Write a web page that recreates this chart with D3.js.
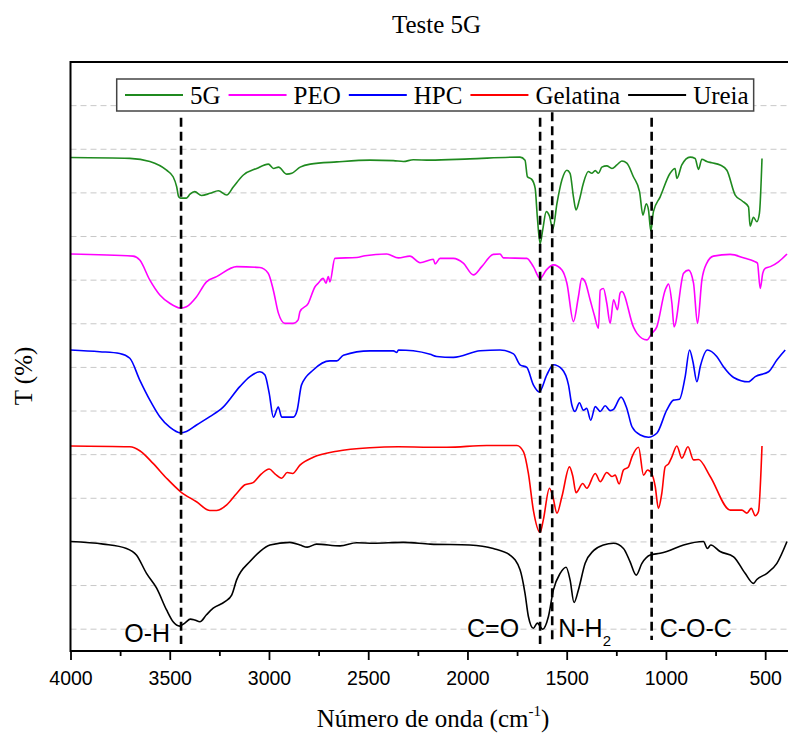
<!DOCTYPE html>
<html lang="pt">
<head>
<meta charset="utf-8">
<title>Teste 5G</title>
<script src="https://cdn.jsdelivr.net/npm/d3@7"></script>
<style>
  body { margin: 0; background: #fff; }
  .serif { font-family: "Liberation Serif", "Times New Roman", serif; }
  .sans { font-family: "Liberation Sans", Arial, sans-serif; }
</style>
</head>
<body>
<script>
// FTIR spectra, stacked with an offset: [wavenumber (cm-1), T (a.u.)]
var series5G = [[4000,108.1],[3701,107.9],[3600,107.2],[3516,105.2],[3483,103.7],[3465,101.4],[3455,99.1],
  [3445,98.8],[3416,98.8],[3398,99.7],[3374,100.3],[3340,99.4],[3297,99.9],[3255,100.5],[3213,99.5],
  [3179,101.4],[3129,104.1],[3062,105.6],[3003,106.6],[2977,105.6],[2952,105.9],[2910,104.3],[2885,104.5],
  [2843,105.9],[2792,106.6],[2658,107.1],[2491,107.5],[2373,107.4],[2323,107.2],[2273,107.6],[2188,107.5],
  [1988,107.8],[1735,108.2],[1710,107.5],[1698,103.7],[1676,103.1],[1659,101.1],[1648,94.5],[1634,88.4],
  [1621,91.5],[1603,95.7],[1587,94.7],[1570,91.7],[1549,97.6],[1524,103.0],[1499,105.2],[1483,104.5],
  [1466,99.1],[1453,96.1],[1436,98.4],[1416,102.2],[1391,104.9],[1374,104.5],[1356,105.1],[1340,104.5],
  [1323,105.9],[1298,106.2],[1272,105.6],[1247,106.4],[1222,107.3],[1197,106.8],[1164,103.7],[1133,100.3],
  [1116,94.9],[1099,97.5],[1088,96.1],[1076,91.3],[1063,95.7],[1029,99.1],[979,104.5],[954,105.6],
  [945,103.3],[920,106.4],[878,108.2],[853,107.9],[836,105.4],[819,107.7],[794,107.2],[769,106.9],
  [727,106.4],[693,105.2],[651,99.5],[617,98.2],[584,96.8],[576,92.4],[559,94.4],[542,93.4],[529,95.3],
  [516,107.9]];

var seriesPEO = [[4000,86.0],[3685,85.5],[3651,84.6],[3600,80.0],[3550,76.6],[3500,74.7],[3445,73.6],
  [3416,73.9],[3365,76.2],[3315,79.6],[3264,80.8],[3163,83.1],[3046,82.9],[3004,81.6],[2978,77.7],
  [2953,72.5],[2920,70.1],[2878,70.1],[2853,70.9],[2844,72.8],[2802,74.7],[2768,78.5],[2752,79.3],
  [2727,80.4],[2713,79.3],[2701,80.8],[2693,79.6],[2668,85.0],[2558,85.2],[2516,85.6],[2407,86.0],
  [2348,85.1],[2290,85.5],[2239,84.0],[2172,84.8],[2163,83.7],[2138,85.0],[2071,85.0],[2021,83.9],
  [1970,81.2],[1928,83.1],[1870,85.9],[1836,86.0],[1819,85.1],[1701,85.0],[1668,83.1],[1634,80.4],
  [1603,82.3],[1567,83.5],[1524,82.3],[1499,79.3],[1466,70.5],[1441,76.2],[1424,80.4],[1407,79.6],
  [1382,75.5],[1361,72.0],[1340,69.0],[1331,77.7],[1315,78.1],[1298,74.7],[1281,70.1],[1264,75.5],
  [1244,73.2],[1231,77.0],[1222,77.4],[1164,69.3],[1146,67.8],[1096,66.3],[1071,67.8],[1046,69.3],
  [1004,77.7],[987,79.1],[970,74.7],[959,69.3],[911,81.6],[886,82.3],[861,79.3],[841,70.1],[819,80.0],
  [794,83.9],[761,85.5],[676,85.9],[601,85.0],[559,84.4],[539,83.9],[525,78.1],[512,81.6],[500,82.7],
  [474,83.1],[433,84.2],[390,86.0]];

var seriesHPC = [[4000,64.0],[3853,63.6],[3752,63.2],[3701,62.1],[3651,57.1],[3600,52.5],[3550,48.7],
  [3500,46.3],[3445,45.0],[3416,45.3],[3365,46.8],[3298,48.7],[3231,50.9],[3147,55.6],[3096,57.9],
  [3046,59.0],[3021,58.3],[2999,54.1],[2978,48.6],[2953,50.9],[2936,48.6],[2878,48.6],[2858,50.2],
  [2836,56.0],[2777,59.4],[2693,61.5],[2658,61.5],[2625,62.8],[2491,63.8],[2373,63.8],[2356,63.4],
  [2348,64.0],[2273,63.8],[2188,63.0],[2155,62.5],[2071,62.3],[1936,63.8],[1836,64.0],[1768,63.1],
  [1735,60.6],[1701,60.0],[1668,56.0],[1638,54.4],[1600,58.3],[1567,60.6],[1524,59.6],[1491,56.0],
  [1474,51.4],[1458,49.9],[1436,51.9],[1416,50.2],[1399,50.6],[1379,47.9],[1356,51.0],[1331,49.9],
  [1306,51.2],[1281,50.1],[1264,50.4],[1226,53.2],[1197,50.6],[1171,46.4],[1129,44.5],[1088,44.0],
  [1046,44.9],[996,50.2],[962,52.5],[932,52.7],[903,57.9],[881,64.0],[864,61.3],[844,56.7],[827,60.2],
  [791,64.0],[744,62.5],[711,60.2],[659,57.7],[584,56.7],[550,57.9],[483,59.0],[441,61.7],[399,64.0]];

var seriesGelatina = [[4000,42.0],[3701,41.8],[3651,40.9],[3584,38.0],[3516,34.6],[3445,31.5],
  [3365,29.2],[3298,27.2],[3264,27.2],[3213,28.5],[3163,31.1],[3121,33.1],[3080,33.6],[3038,35.6],
  [2999,36.7],[2970,35.6],[2936,34.6],[2908,35.9],[2881,35.7],[2844,37.6],[2777,39.4],[2658,40.8],
  [2491,41.6],[2348,41.8],[2188,41.7],[2104,41.7],[1903,42.1],[1751,42.1],[1718,40.7],[1693,35.7],
  [1668,27.3],[1634,22.2],[1618,25.0],[1587,32.3],[1570,30.4],[1549,26.6],[1524,30.4],[1486,37.2],
  [1469,35.0],[1453,31.3],[1419,33.4],[1399,32.3],[1356,35.7],[1331,33.8],[1298,35.9],[1272,35.0],
  [1256,35.3],[1236,33.3],[1214,36.5],[1189,37.2],[1171,39.5],[1138,41.7],[1113,35.3],[1093,36.5],
  [1071,35.6],[1054,32.7],[1038,27.7],[1021,31.1],[1004,37.2],[987,37.9],[970,39.5],[945,42.0],
  [920,39.2],[889,41.8],[861,38.8],[836,38.9],[777,35.0],[676,27.3],[617,27.3],[592,26.6],[570,27.7],
  [550,26.0],[534,26.9],[516,42.0]];

var seriesUreia = [[4000,20.1],[3835,19.5],[3718,18.5],[3668,17.0],[3617,12.8],[3566,9.4],[3516,4.4],
  [3483,1.7],[3450,0.7],[3424,1.4],[3396,2.3],[3374,2.1],[3348,1.7],[3315,3.3],[3281,4.8],[3222,6.3],
  [3188,7.8],[3163,11.3],[3096,15.5],[3046,17.8],[2995,19.3],[2895,19.9],[2844,19.3],[2807,18.8],
  [2760,19.5],[2642,19.1],[2558,19.8],[2475,19.7],[2323,19.9],[2188,19.5],[1988,19.3],[1870,18.5],
  [1786,17.0],[1735,13.6],[1710,8.2],[1693,2.9],[1668,0.2],[1648,1.4],[1621,0.0],[1592,2.9],[1567,9.0],
  [1533,12.8],[1503,14.2],[1483,11.3],[1463,6.1],[1441,9.0],[1407,15.1],[1365,18.0],[1315,19.3],
  [1264,19.7],[1214,18.5],[1181,15.5],[1150,12.4],[1121,15.1],[1079,17.0],[1029,17.4],[996,17.8],
  [911,19.3],[811,20.1],[791,18.5],[774,19.3],[727,17.8],[659,16.6],[601,12.8],[559,10.5],[542,11.4],
  [491,12.8],[441,15.1],[390,20.1]];

var seriesNames = ["5G", "PEO", "HPC", "Gelatina", "Ureia"];
var seriesColors = ["#1f8a1f", "#ff00ff", "#0000ff", "#ff0000", "#000000"];
var allSeries = [series5G, seriesPEO, seriesHPC, seriesGelatina, seriesUreia];

// marked bands
var bandNames = ["O-H", "C=O", "N-H", "C-O-C"];
var bandWavenumbers = [3443, 1634, 1573, 1072];
var bandTops = [117.2, 117.2, 118.5, 117.2];
var bandBottoms = [-3.4, -3.4, -3.4, -2.5];

var majorTicks = [4000, 3500, 3000, 2500, 2000, 1500, 1000, 500];
var minorTicks = [3750, 3250, 2750, 2250, 1750, 1250, 750];
var gridValues = [0, 10, 20, 30, 40, 50, 60, 70, 80, 90, 100, 110, 120];

var w = 788, h = 734;
// plot box (window.top is read-only, so keep these names distinct)
var plotLeft = 70.5, plotRight = 788, plotTop = 62, plotBottom = 651;

var svg = d3.select("body").append("svg")
  .attr("width", w).attr("height", h);

var xScale = d3.scaleLinear().domain([4000, 385]).range([plotLeft, plotRight]);
var yScale = d3.scaleLinear().domain([-5, 130]).range([plotBottom, plotTop]);

svg.append("defs").append("clipPath").attr("id", "plotclip")
  .append("rect").attr("x", plotLeft).attr("y", plotTop)
  .attr("width", plotRight - plotLeft).attr("height", plotBottom - plotTop);

// dashed horizontal grid
svg.append("g").selectAll("line")
  .data(gridValues).enter().append("line")
  .attr("x1", plotLeft).attr("x2", plotRight)
  .attr("y1", function(d) { return yScale(d); })
  .attr("y2", function(d) { return yScale(d); })
  .attr("stroke", "#c8c8c8").attr("stroke-width", 1)
  .attr("stroke-dasharray", "6,4");

// spectra
var line = d3.line()
  .x(function(d) { return xScale(d[0]); })
  .y(function(d) { return yScale(d[1]); })
  .curve(d3.curveMonotoneX);

svg.append("g").attr("clip-path", "url(#plotclip)")
  .selectAll("path").data(allSeries).enter().append("path")
  .attr("d", line)
  .attr("fill", "none")
  .attr("stroke", function(d, i) { return seriesColors[i]; })
  .attr("stroke-width", 1.6)
  .attr("stroke-linejoin", "round");

// band markers
svg.append("g").selectAll("line")
  .data(bandWavenumbers).enter().append("line")
  .attr("x1", function(d) { return xScale(d); })
  .attr("x2", function(d) { return xScale(d); })
  .attr("y1", function(d, i) { return yScale(bandTops[i]); })
  .attr("y2", function(d, i) { return yScale(bandBottoms[i]); })
  .attr("stroke", "#000").attr("stroke-width", 2.6)
  .attr("stroke-dasharray", "9,5");

// band labels: offset from the marker line (px), anchor, baseline (T units)
var labelLayout = [
  { dx: -11, anchor: "end", base: -2.9 },
  { dx: -21, anchor: "end", base: -1.7 },
  { dx: 6, anchor: "start", base: -1.7 },
  { dx: 8, anchor: "start", base: -1.7 }
];
bandNames.forEach(function(name, i) {
  var t = svg.append("text").attr("class", "sans")
    .attr("x", xScale(bandWavenumbers[i]) + labelLayout[i].dx)
    .attr("y", yScale(labelLayout[i].base))
    .attr("text-anchor", labelLayout[i].anchor)
    .attr("font-size", 25)
    .text(name);
  if (name === "N-H") {
    t.append("tspan").attr("font-size", 15).attr("dy", 9).text("2");
  }
});

// frame
svg.append("rect")
  .attr("x", plotLeft).attr("y", plotTop)
  .attr("width", plotRight - plotLeft + 4).attr("height", plotBottom - plotTop)
  .attr("fill", "none").attr("stroke", "#000").attr("stroke-width", 2);

// x axis
var xAxis = d3.axisBottom(xScale).tickValues(majorTicks)
  .tickSize(9).tickPadding(11).tickFormat(d3.format("d"));
var gx = svg.append("g").attr("transform", "translate(0," + plotBottom + ")").call(xAxis);
gx.select(".domain").remove();
gx.selectAll(".tick line").attr("stroke-width", 1.8);
gx.selectAll(".tick text").attr("class", "sans").attr("font-size", 19.5).attr("fill", "#000");

var gxm = svg.append("g").attr("transform", "translate(0," + plotBottom + ")")
  .call(d3.axisBottom(xScale).tickValues(minorTicks).tickSize(5).tickFormat(""));
gxm.select(".domain").remove();
gxm.selectAll(".tick line").attr("stroke-width", 1.8);

// titles
svg.append("text").attr("class", "serif")
  .attr("x", 436.5).attr("y", 33)
  .attr("text-anchor", "middle").attr("font-size", 25)
  .text("Teste 5G");

var xt = svg.append("text").attr("class", "serif")
  .attr("x", 433).attr("y", 727)
  .attr("text-anchor", "middle").attr("font-size", 25);
xt.append("tspan").text("Número de onda (cm");
xt.append("tspan").attr("font-size", 15).attr("dy", -11).text("-1");
xt.append("tspan").attr("dy", 11).text(")");

svg.append("text").attr("class", "serif")
  .attr("transform", "translate(31.5,376) rotate(-90)")
  .attr("text-anchor", "middle").attr("font-size", 25)
  .text("T (%)");

// legend
var legend = svg.append("g");
var box = legend.append("rect")
  .attr("y", 79).attr("height", 32)
  .attr("fill", "#fff").attr("stroke", "#444").attr("stroke-width", 1.5);
var lx = 125;
seriesNames.forEach(function(name, i) {
  legend.append("line")
    .attr("x1", lx).attr("x2", lx + 58)
    .attr("y1", 95).attr("y2", 95)
    .attr("stroke", seriesColors[i]).attr("stroke-width", 2);
  var t = legend.append("text").attr("class", "serif")
    .attr("x", lx + 65).attr("y", 104)
    .attr("font-size", 25)
    .text(name);
  lx = lx + 65 + t.node().getComputedTextLength() + 8;
});
box.attr("x", 116.7).attr("width", lx - 3 - 116.7);
</script>
</body>
</html>
